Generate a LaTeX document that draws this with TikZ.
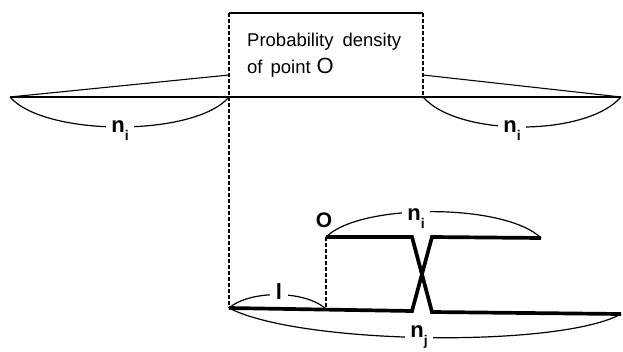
\documentclass[tikz,border=0pt]{standalone}
\usepackage{fontspec}
\setmainfont{Liberation Sans}
\newcommand{\subi}[1]{\smash{\raisebox{-8pt}{\fontsize{14}{14}\selectfont #1}}}
\begin{document}
\begin{tikzpicture}[x=1pt,y=-1pt,
  thinline/.style={line width=1.1pt},
  mainline/.style={line width=1.8pt},
  thickline/.style={line width=3.7pt, line join=miter},
  dashline/.style={line width=1.1pt, dash pattern=on 3.5pt off 2.5pt},
  bracearc/.style={line width=1.2pt},
  lbl/.style={fill=white, inner xsep=5pt, inner ysep=1pt, font=\fontsize{22}{22}\selectfont\bfseries},
  plainlbl/.style={inner sep=0pt, font=\fontsize{21}{21}\selectfont\bfseries},
  boxtext/.style={anchor=base west, inner sep=0pt, font=\fontsize{18.5}{18.5}\selectfont},
]
\useasboundingbox (0,0) rectangle (623,351);
% top part coordinates
\coordinate (L) at (10,97);
\coordinate (R) at (621,97);
\coordinate (BL) at (229,97);
\coordinate (BR) at (423,97);
\coordinate (TL) at (229,13);
\coordinate (TR) at (423,13);
\coordinate (LT) at (229,75);
\coordinate (RT) at (423,75);
% bottom part coordinates
\coordinate (A) at (229,308);
\coordinate (B) at (412,311);
\coordinate (C) at (432,237);
\coordinate (D) at (541,238);
\coordinate (E) at (326,237);
\coordinate (F) at (412,237);
\coordinate (G) at (432,312);
\coordinate (H) at (621,314);
\coordinate (E0) at (326,309);

% braces
\draw[bracearc] (L) .. controls (45,137) and (195,137) .. (BL);
\draw[bracearc] (BR) .. controls (458,137) and (586,137) .. (R);
\draw[bracearc] (A) .. controls (250,290) and (305,290) .. (E0);
\draw[bracearc] (E) .. controls (360,203) and (505,203) .. (D);
\draw[bracearc] (A) .. controls (300,345) and (560,348) .. (H);

% brace labels
\node[lbl] (ni1) at (120,127) {n\subi{i}};
\node[lbl] (ni2) at (512,127) {n\subi{i}};
\node[lbl] (ni3) at (416,215) {n\subi{i}};
\node[lbl] (nj) at (419,332) {n\subi{j}};
\node[lbl, inner xsep=6pt] (l) at (279,292) {l};
\node[plainlbl] (O) at (324,220) {O};

% box
\draw[thinline] (TL) -- (TR);
\draw[dashline] (TL) -- (A);
\draw[dashline] (TR) -- (BR);
\node[boxtext] (t1) at (247,46) {Probability\hspace{9pt}density};
\node[boxtext] (t2) at (247,73) {of\hspace{8pt}point\hspace{6pt}{\fontsize{22}{22}\selectfont O}};

% top lines
\draw[mainline] (L) -- (R);
\draw[thinline] (L) -- (LT);
\draw[thinline] (RT) -- (R);

% bottom lines
\draw[dashline] (E) -- (E0);
\draw[thickline] (A) -- (B) -- (C) -- (D);
\draw[thickline] (E) -- (F) -- (G) -- (H);
\end{tikzpicture}
\end{document}
